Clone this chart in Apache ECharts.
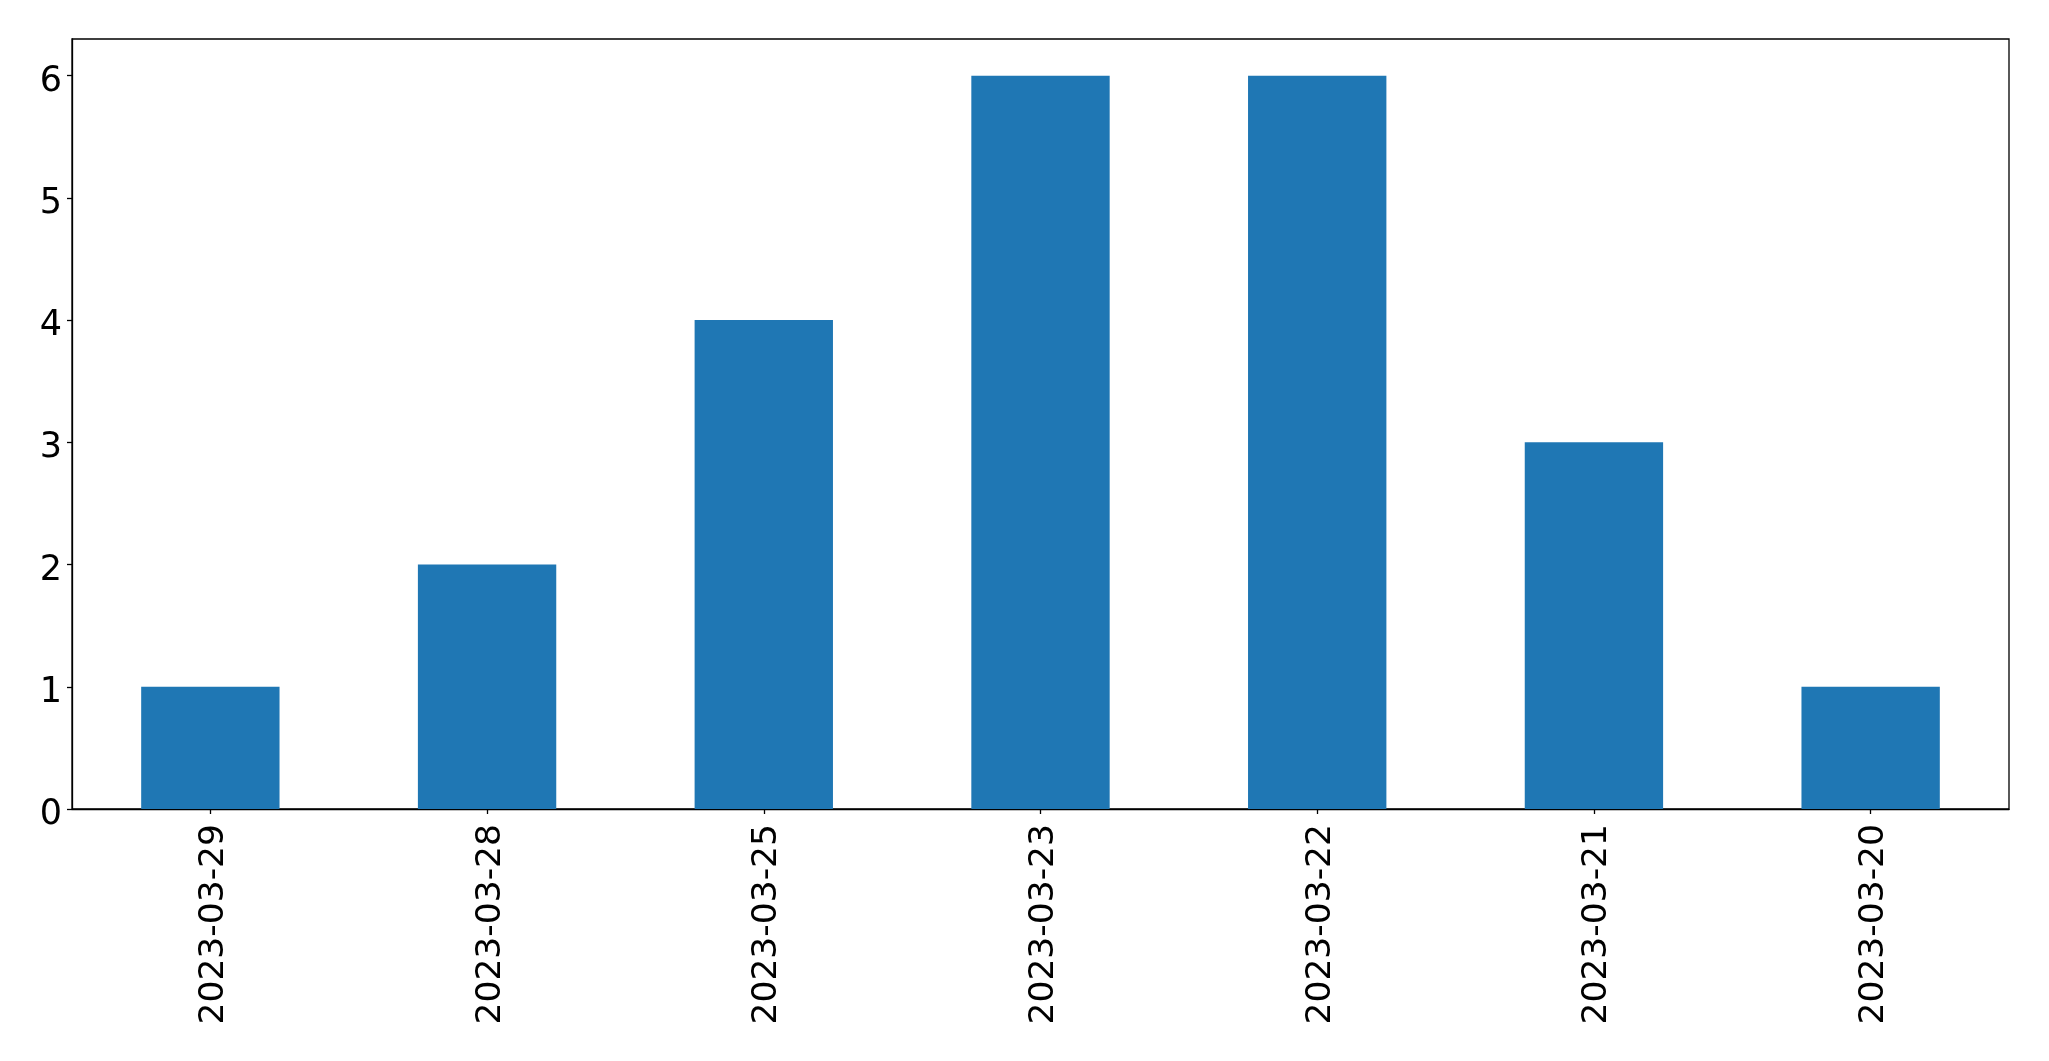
<!DOCTYPE html>
<html>
<head>
<meta charset="utf-8">
<script src="https://cdn.jsdelivr.net/npm/echarts@6/dist/echarts.min.js"></script>
<style>
html,body{margin:0;padding:0;background:#fff;}
#main{width:2049px;height:1061px;}
</style>
</head>
<body>
<div id="main"></div>
<script>
const categories = ["2023-03-29","2023-03-28","2023-03-25","2023-03-23","2023-03-22","2023-03-21","2023-03-20"];
const counts = [1, 2, 4, 6, 6, 3, 1];
const yTicks = [0, 1, 2, 3, 4, 5, 6];

const chart = echarts.init(document.getElementById('main'), null, {renderer: 'canvas'});
const font = 'DejaVu Sans';
chart.setOption({
  animation: false,
  backgroundColor: '#ffffff',
  grid: {
    left: 72, right: 40, top: 39, bottom: 252,
    containLabel: false,
    show: true, borderColor: '#000', borderWidth: 1.3, backgroundColor: 'transparent'
  },
  xAxis: {
    type: 'category',
    data: categories,
    boundaryGap: true,
    axisLine: {show: true, lineStyle: {color: '#000', width: 1.3}},
    axisTick: {show: true, alignWithLabel: true, length: 5, lineStyle: {color: '#000', width: 1.3}},
    axisLabel: {rotate: 90, margin: 15, color: '#000', fontFamily: font, fontSize: 34.5, verticalAlign: 'top', lineHeight: 7},
    splitLine: {show: false}
  },
  yAxis: {
    type: 'value',
    min: 0, max: 6.3, interval: 1,
    axisLine: {show: true, lineStyle: {color: '#000', width: 1.3}},
    axisTick: {show: true, length: 5, customValues: yTicks, lineStyle: {color: '#000', width: 1.3}},
    axisLabel: {margin: 10, color: '#000', fontFamily: font, fontSize: 35, customValues: yTicks, verticalAlign: 'top', lineHeight: 12},
    splitLine: {show: false}
  },
  series: [{
    type: 'bar',
    data: counts,
    barWidth: '50%',
    itemStyle: {color: '#1f77b4'}
  }]
});
</script>
</body>
</html>
